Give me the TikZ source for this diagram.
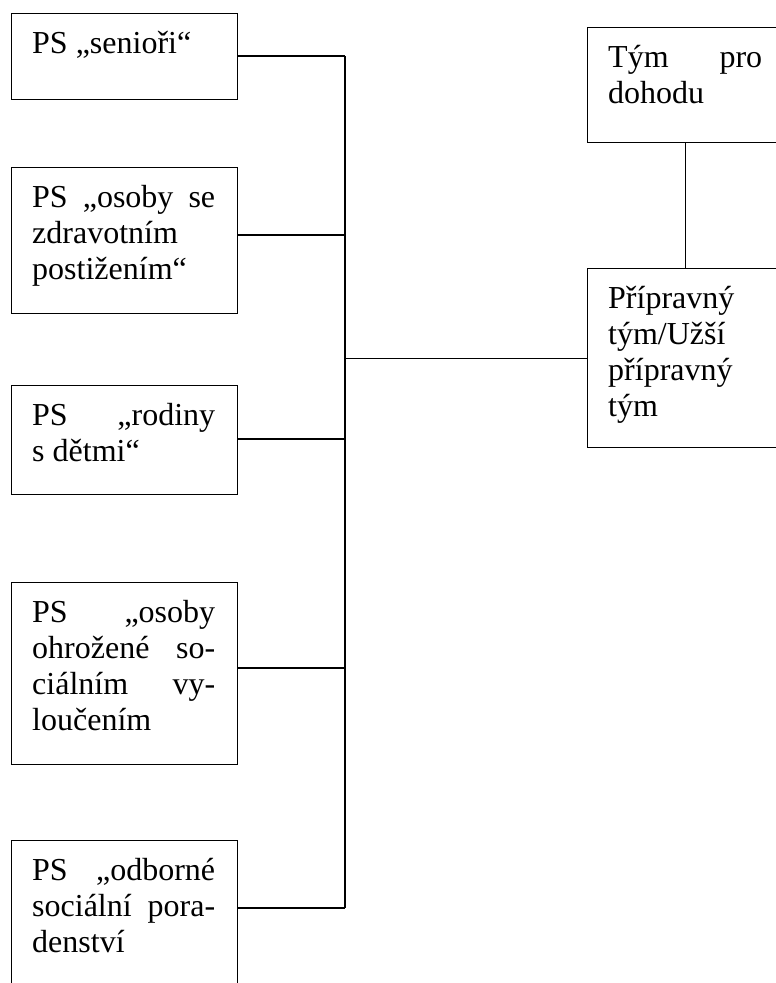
\documentclass[tikz,border=0pt]{standalone}
\usepackage{fontspec}
\setmainfont{Liberation Serif}
\usetikzlibrary{calc}

% paragraph settings for the box captions: explicit breaks only
\newcommand\captxt[1]{\hyphenpenalty=10000\tolerance=10000\strut #1}

\tikzset{
  frame/.style={draw, line width=1.2pt, inner sep=0pt, anchor=north west},
  caption/.style={inner sep=0pt, anchor=north west, align=justify,
                  font=\fontsize{32}{36}\selectfont},
  leftcap/.style={caption, text width=183pt},
  rightcap/.style={caption, text width=154pt},
  link/.style={line width=1.2pt},
}

\begin{document}
\begin{tikzpicture}[x=1pt, y=-1pt]
  \clip (0,0) rectangle (776,983);
  \fill[white] (0,0) rectangle (776,983);

  % working groups (left column)
  \node[frame, minimum width=226pt, minimum height=86pt]  (b1) at (11,13)  {};
  \node[frame, minimum width=226pt, minimum height=146pt] (b2) at (11,167) {};
  \node[frame, minimum width=226pt, minimum height=109pt] (b3) at (11,385) {};
  \node[frame, minimum width=226pt, minimum height=182pt] (b4) at (11,582) {};
  \node[frame, minimum width=226pt, minimum height=180pt] (b5) at (11,840) {};

  % teams (right column)
  \node[frame, minimum width=196pt, minimum height=115pt] (r1) at (587,27)  {};
  \node[frame, minimum width=196pt, minimum height=179pt] (r2) at (587,268) {};

  % captions
  \node[leftcap] (t1) at ($(b1.north west)+(21,14.8)$)
    {\captxt{PS „senioři“}};
  \node[leftcap] (t2) at ($(b2.north west)+(21,14.8)$)
    {\captxt{PS „osoby se\linebreak zdravotním\newline postižením“}};
  \node[leftcap] (t3) at ($(b3.north west)+(21,14.8)$)
    {\captxt{PS „rodiny\linebreak s dětmi“}};
  \node[leftcap] (t4) at ($(b4.north west)+(21,14.8)$)
    {\captxt{PS „osoby\linebreak ohrožené so-\linebreak ciálním vy-\linebreak loučením}};
  \node[leftcap] (t5) at ($(b5.north west)+(21,14.8)$)
    {\captxt{PS „odborné\linebreak sociální pora-\linebreak denství}};
  \node[rightcap] (t6) at ($(r1.north west)+(21,14.8)$)
    {\captxt{Tým pro\linebreak dohodu}};
  \node[rightcap] (t7) at ($(r2.north west)+(21,14.8)$)
    {\captxt{Přípravný\newline tým/Užší\newline přípravný\newline tým}};

  % spine junctions
  \coordinate (s1) at (345,56);
  \coordinate (s2) at (345,235);
  \coordinate (s3) at (345,439);
  \coordinate (s4) at (345,668);
  \coordinate (s5) at (345,908);

  % connectors
  \draw[link] (s1) -- (s5);
  \draw[link] (b1.east |- s1) -- (s1);
  \draw[link] (b2.east |- s2) -- (s2);
  \draw[link] (b3.east |- s3) -- (s3);
  \draw[link] (b4.east |- s4) -- (s4);
  \draw[link] (b5.east |- s5) -- (s5);
  \draw[link] (s1 |- r2.west) -- (r2.west);
  \draw[link] (r1.south) -- (r2.north);
\end{tikzpicture}
\end{document}
